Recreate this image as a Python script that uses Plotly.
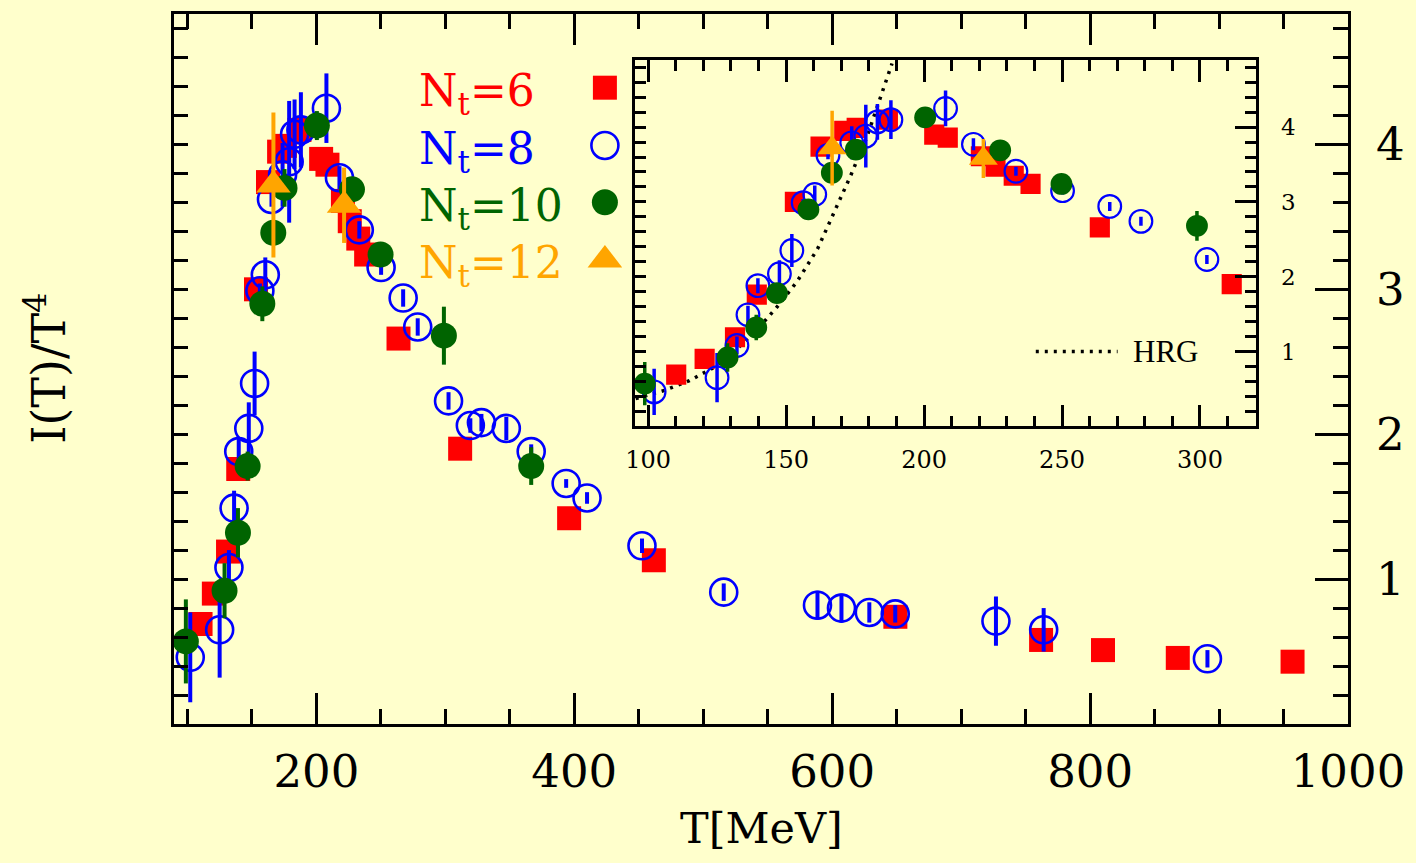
import plotly.graph_objects as go

# ---------------- data ----------------
# N_t = 6  (red squares)
T6 = [110.2, 120.5, 131.5, 139.4, 153.2, 162.5, 171.1, 175.6, 186.9, 203.7, 208.6,
      220.6, 225.9, 232.5, 238.6, 263.7, 311.5, 396.0, 461.7, 649.0, 762.0, 810.0,
      868.0, 957.0]
I6 = [0.69, 0.90, 1.19, 1.76, 3.00, 3.74, 3.95, 3.99, 4.10, 3.90, 3.86,
      3.61, 3.47, 3.35, 3.24, 2.66, 1.90, 1.42, 1.13, 0.74, 0.58, 0.51,
      0.456, 0.43]

# N_t = 8  (blue open circles)
T8 = [102.2, 125.0, 132.2, 136.2, 139.8, 147.6, 152.1, 156.2, 160.4, 165.2, 173.8,
      178.9, 183.1, 188.0, 207.8, 217.9, 233.3, 250.2, 267.3, 278.6, 302.5, 319.4,
      328.0, 347.3, 366.6, 393.7, 409.9, 452.5, 515.9, 588.6, 607.2, 628.8, 648.9,
      727.0, 764.0, 891.0]
I8 = [0.46, 0.65, 1.08, 1.49, 1.88, 2.04, 2.35, 2.99, 3.10, 3.62, 3.79,
      3.88, 4.07, 4.10, 4.25, 3.77, 3.41, 3.15, 2.94, 2.74, 2.23, 2.06,
      2.08, 2.04, 1.88, 1.66, 1.56, 1.23, 0.91, 0.82, 0.80, 0.77, 0.76,
      0.71, 0.65, 0.45]
E8 = [0.31, 0.33, 0.12, 0.12, 0.10, 0.18, 0.22, 0.05, 0.12, 0.05, 0.22,
      0.42, 0.24, 0.26, 0.24, 0.08, 0.06, 0.05, 0.06, 0.06, 0.06, 0.05,
      0.06, 0.08, 0.05, 0.03, 0.04, 0.05, 0.06, 0.10, 0.10, 0.07, 0.06,
      0.17, 0.15, 0.06]

# N_t = 10 (green filled circles)
T10 = [98.8, 128.8, 139.2, 146.7, 158.1, 166.6, 175.3, 200.4, 227.6, 249.8, 298.9, 366.6]
I10 = [0.57, 0.92, 1.32, 1.78, 2.90, 3.39, 3.70, 4.13, 3.69, 3.24, 2.68, 1.78]
E10 = [0.29, 0.19, 0.17, 0.10, 0.12, 0.08, 0.13, 0.10, 0.07, 0.05, 0.20, 0.13]

# N_t = 12 (orange triangles)
T12 = [166.7, 221.5]
I12 = [3.72, 3.58]
E12 = [0.50, 0.26]

T_HRG = [95.5, 106.0, 115.0, 124.0, 131.5, 139.0, 146.4, 153.9, 161.4, 167.4,
         173.4, 179.4, 183.9, 188.4]
I_HRG = [0.37, 0.48, 0.61, 0.79, 1.01, 1.27, 1.58, 1.93, 2.37, 2.86,
         3.35, 3.88, 4.36, 4.85]

LEGEND_LABELS = ["N<sub>t</sub>=6", "N<sub>t</sub>=8", "N<sub>t</sub>=10", "N<sub>t</sub>=12"]
RIGHT_YTICKS = [1, 2, 3, 4]

# ---------------- styling ----------------
BG = "#FFFFCC"
RED, BLUE, GREEN, ORANGE = "#FF0000", "#0000FF", "#006400", "#FFA500"
FONT = "DejaVu Serif"

W, H = 1416, 863
ML, MR, MT, MB = 174, 65, 11, 139
PW, PH = W - ML - MR, H - MT - MB

INSET_TMAX = 315  # points shown in the zoomed inset


def px2fx(px):
    return (px - ML) / PW


def py2fy(py):
    return (H - MB - py) / PH


def sel(tmax, *cols):
    keep = [i for i, t in enumerate(cols[0]) if t <= tmax]
    return [[c[i] for i in keep] for c in cols]


fig = go.Figure()


def add_sets(xa, ya, k, ew, tmax):
    t6, i6 = sel(tmax, T6, I6)
    t8, i8, e8 = sel(tmax, T8, I8, E8)
    t10, i10, e10 = sel(tmax, T10, I10, E10)
    t12, i12, e12 = sel(tmax, T12, I12, E12)
    fig.add_trace(go.Scatter(x=t6, y=i6, mode="markers", xaxis=xa, yaxis=ya,
                             marker=dict(symbol="square", size=24 * k, color=RED, line=dict(width=0)),
                             showlegend=False))
    fig.add_trace(go.Scatter(x=t8, y=i8, mode="markers", xaxis=xa, yaxis=ya,
                             error_y=dict(type="data", array=e8, color=BLUE, thickness=ew, width=0),
                             marker=dict(symbol="circle-open", size=27 * k, color=BLUE,
                                         line=dict(width=2.6 * k, color=BLUE)),
                             showlegend=False))
    fig.add_trace(go.Scatter(x=t10, y=i10, mode="markers", xaxis=xa, yaxis=ya,
                             error_y=dict(type="data", array=e10, color=GREEN, thickness=ew, width=0),
                             marker=dict(symbol="circle", size=26 * k, color=GREEN, line=dict(width=0)),
                             showlegend=False))
    fig.add_trace(go.Scatter(x=t12, y=i12, mode="markers", xaxis=xa, yaxis=ya,
                             error_y=dict(type="data", array=e12, color=ORANGE, thickness=ew, width=0),
                             marker=dict(symbol="triangle-up", size=30 * k, color=ORANGE, line=dict(width=0)),
                             showlegend=False))


# main panel
add_sets("x", "y", 1.0, 4, 1e9)
fig.add_trace(go.Scatter(x=[500], y=[-1], mode="markers", xaxis="x", yaxis="y2",
                         marker=dict(opacity=0), showlegend=False, hoverinfo="skip"))

# inset panel
fig.add_trace(go.Scatter(x=T_HRG, y=I_HRG, mode="lines", xaxis="x3", yaxis="y3",
                         line=dict(color="black", width=3.5, dash="3px,6px"), showlegend=False))
add_sets("x3", "y3", 0.84, 3.5, INSET_TMAX)
fig.add_trace(go.Scatter(x=[200], y=[-1], mode="markers", xaxis="x3", yaxis="y4",
                         marker=dict(opacity=0), showlegend=False, hoverinfo="skip"))

# legend keys (layout positions in a hidden 0..1 frame)
KEY_X = px2fx(606)
KEY_Y = [py2fy(85), py2fy(143), py2fy(200), py2fy(258)]
key_styles = [dict(symbol="square", size=24, color=RED),
              dict(symbol="circle-open", size=27, color=BLUE, line=dict(width=2.6, color=BLUE)),
              dict(symbol="circle", size=26, color=GREEN),
              dict(symbol="triangle-up", size=30, color=ORANGE)]
for ky, ms in zip(KEY_Y, key_styles):
    fig.add_trace(go.Scatter(x=[KEY_X], y=[ky], mode="markers", xaxis="x5", yaxis="y5",
                             marker=ms, showlegend=False))
HRG_KEY_X = [px2fx(1038), px2fx(1120)]
HRG_KEY_Y = py2fy(350)
fig.add_trace(go.Scatter(x=HRG_KEY_X, y=[HRG_KEY_Y, HRG_KEY_Y], mode="lines", xaxis="x5", yaxis="y5",
                         line=dict(color="black", width=3.5, dash="3px,6px"), showlegend=False))

legend_colors = [RED, BLUE, GREEN, ORANGE]
annotations = []
for lab, ky, col in zip(LEGEND_LABELS, KEY_Y, legend_colors):
    annotations.append(dict(text=lab, x=px2fx(418), y=ky, xref="paper", yref="paper",
                            xanchor="left", yanchor="middle", showarrow=False, yshift=-6,
                            font=dict(family=FONT, size=44, color=col)))
annotations.append(dict(text="HRG", x=px2fx(1133), y=HRG_KEY_Y, xref="paper", yref="paper",
                        xanchor="left", yanchor="middle", showarrow=False,
                        font=dict(family="Liberation Serif", size=31, color="black")))
annotations.append(dict(text="T[MeV]", x=0.5, y=py2fy(828), xref="paper", yref="paper",
                        xanchor="center", yanchor="middle", showarrow=False,
                        font=dict(family=FONT, size=43, color="black")))
annotations.append(dict(text="I(T)/T<sup>4</sup>", x=px2fx(45), y=py2fy(367), xref="paper", yref="paper",
                        xanchor="center", yanchor="middle", showarrow=False, textangle=-90,
                        font=dict(family=FONT, size=46, color="black")))


def ax(**kw):
    d = dict(showline=True, linewidth=3, linecolor="black", showgrid=False, zeroline=False,
             ticks="inside", tickcolor="black", tickwidth=3)
    d.update(kw)
    return d


def minor(dt, ln, w):
    return dict(dtick=dt, tick0=0, ticklen=ln, tickwidth=w, ticks="inside", tickcolor="black",
                showgrid=False)


ix0, ix1 = px2fx(636), px2fx(1258.5)
iy0, iy1 = py2fy(425), py2fy(57)

fig.update_layout(
    width=W, height=H,
    margin=dict(l=ML, r=MR, t=MT, b=MB, pad=0),
    paper_bgcolor=BG, plot_bgcolor="rgba(0,0,0,0)",
    showlegend=False,
    annotations=annotations,
    xaxis=ax(domain=[0, 1], anchor="y", range=[89.6, 1000], mirror="ticks",
             tick0=0, dtick=200, ticklen=31, minor=minor(50, 15, 3),
             tickfont=dict(family=FONT, size=45, color="black"), ticklabelstandoff=6),
    yaxis=ax(domain=[0, 1], anchor="x", range=[0, 4.9], dtick=0.2, tick0=0,
             ticklen=14, showticklabels=False),
    yaxis2=ax(overlaying="y", side="right", anchor="x", range=[0, 4.9],
              tickvals=RIGHT_YTICKS, ticklen=33, minor=minor(0.2, 15, 3),
              tickfont=dict(family=FONT, size=45, color="black"), ticklabelstandoff=16),
    xaxis3=ax(domain=[ix0, ix1], anchor="y3", range=[95.2, 320.2], mirror="ticks",
              linewidth=2.5, tickwidth=2.5, tick0=0, dtick=50, ticklen=22,
              minor=minor(10, 11, 2.5),
              tickfont=dict(family=FONT, size=24, color="black"), ticklabelstandoff=10),
    yaxis3=ax(domain=[iy0, iy1], anchor="x3", range=[0, 4.9], dtick=0.2, tick0=0,
              linewidth=2.5, tickwidth=2.5, ticklen=11, showticklabels=False),
    yaxis4=ax(overlaying="y3", side="right", anchor="x3", range=[0, 4.9],
              linewidth=2.5, tickwidth=2.5, tickvals=RIGHT_YTICKS, ticklen=21,
              minor=minor(0.2, 11, 2.5),
              tickfont=dict(family=FONT, size=23, color="black"), ticklabelstandoff=18),
    xaxis5=dict(domain=[0, 1], range=[0, 1], anchor="y5", visible=False, fixedrange=True),
    yaxis5=dict(domain=[0, 1], range=[0, 1], anchor="x5", visible=False, fixedrange=True),
)

fig.write_html("out.html")
